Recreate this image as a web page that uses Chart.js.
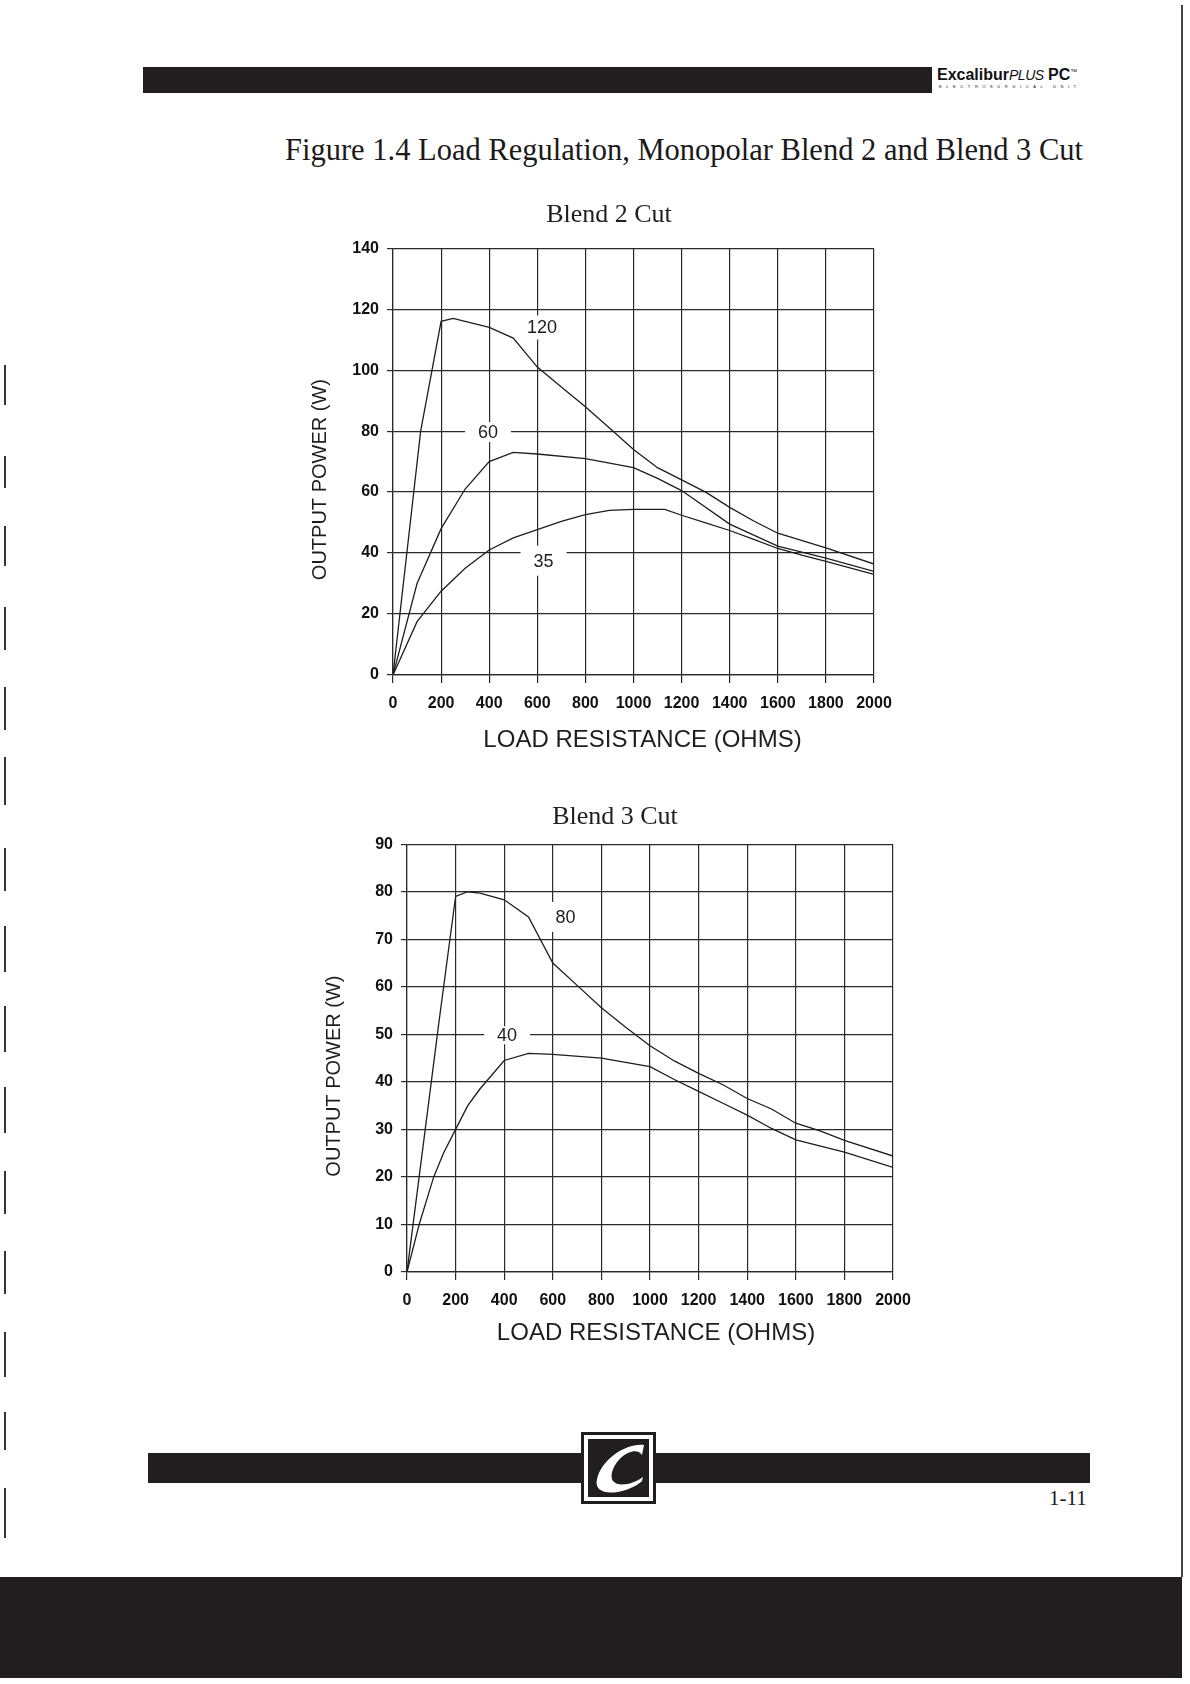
<!DOCTYPE html>
<html>
<head>
<meta charset="utf-8">
<title>Figure 1.4 Load Regulation</title>
<script src="https://cdn.jsdelivr.net/npm/chart.js@4.4.1/dist/chart.umd.min.js"></script>
<style>
  body { margin: 0; background: #fff; }
  #page { position: relative; width: 1190px; height: 1684px; overflow: hidden; background: #fff; }
  .blk { position: absolute; background: #221e1f; }
  #brand { position: absolute; left: 937px; top: 66px; font-family: "Liberation Sans", Arial, sans-serif; color: #111; white-space: nowrap; }
  #brand .b { font-weight: bold; font-size: 16px; }
  #brand .p { font-style: italic; font-size: 14px; letter-spacing: -0.5px; }
  #brand sup { font-size: 7px; }
  #brand .sub { position: absolute; left: 2px; top: 18px; font-size: 4px; letter-spacing: 4.6px; }
  #figtitle { position: absolute; left: 285px; top: 133px; font-family: "Liberation Serif", "Times New Roman", serif; font-size: 30.5px; line-height: 34px; color: #1a1a1a; white-space: nowrap; }
  canvas { position: absolute; }
  #pageno { position: absolute; left: 1049px; top: 1486px; font-family: "Liberation Serif", serif; font-size: 21px; color: #1a1a1a; }
  #logo { position: absolute; left: 581px; top: 1432px; width: 69px; height: 66px; border: 3px solid #221e1f; background: #fff; padding: 0; }
  #logo svg { position: absolute; left: 4px; top: 4px; }
  .mark { position: absolute; left: 4px; width: 2px; background: #333; }
</style>
</head>
<body>
<div id="page">
  <div class="blk" style="left:143px;top:67px;width:789px;height:26px;"></div>
  <div id="brand"><span class="b">Excalibur</span><span class="p">PLUS</span> <span class="b">PC</span><sup>™</sup><div class="sub">ELECTROSURGICAL UNIT</div></div>
  <div id="figtitle">Figure 1.4 Load Regulation, Monopolar Blend 2 and Blend 3 Cut</div>

  <canvas id="blend2" width="610" height="564" style="left:300px;top:190px;"></canvas>
  <canvas id="blend3" width="620" height="561" style="left:310px;top:786px;"></canvas>

  <div class="blk" style="left:148px;top:1453px;width:942px;height:30px;"></div>
  <div id="logo">
    <svg width="61" height="58" viewBox="0 0 61 58">
      <rect x="0" y="0" width="61" height="58" fill="#221e1f"/>
      <path d="M56 6 C38 4 14 20 9 40 C6 52 18 56 34 52 C42 50 50 46 54 42 L55 38 C44 46 30 48 25 42 C20 34 30 18 40 14 C46 11 52 12 54 16 Z" fill="#fff"/>
    </svg>
  </div>
  <div id="pageno">1-11</div>
  <div class="blk" style="left:0px;top:1577px;width:1182px;height:101px;"></div>
  <div style="position:absolute;left:1181px;top:5px;width:2px;height:1572px;background:#444;"></div>
</div>

<script>
// Blend 2 Cut - load resistance (ohms) vs output power (W), one pair per setting
var b2Load120 = [0, 115, 200, 250, 400, 500, 600, 700, 800, 900, 1000, 1100, 1200, 1300, 1400, 1500, 1600, 1800, 2000];
var b2Power120 = [0, 80, 116, 117, 114, 110.5, 101, 94.5, 88, 81, 74, 68, 64, 60, 55, 50.5, 46.5, 41.7, 36.4];
var b2Load60 = [0, 100, 200, 300, 400, 500, 600, 800, 1000, 1100, 1200, 1400, 1600, 1800, 2000];
var b2Power60 = [0, 30, 48, 61, 70, 73, 72.5, 71, 68, 64.5, 60.5, 49.5, 42.3, 38.3, 34];
var b2Load35 = [0, 100, 200, 300, 400, 500, 600, 700, 800, 900, 1000, 1130, 1200, 1300, 1400, 1500, 1600, 1700, 1800, 2000];
var b2Power35 = [0, 17.5, 27.5, 35, 41, 45, 47.7, 50.4, 52.6, 54, 54.3, 54.3, 52.4, 49.9, 47.4, 44.5, 41.5, 39.3, 37.3, 33];

// Blend 3 Cut
var b3Load80 = [0, 130, 200, 250, 300, 400, 500, 600, 700, 800, 900, 1000, 1100, 1200, 1300, 1400, 1500, 1600, 1700, 1800, 2000];
var b3Power80 = [0, 52, 79, 80, 79.7, 78.3, 74.7, 65, 60.3, 55.6, 51.5, 47.6, 44.4, 41.8, 39.4, 36.5, 34.3, 31.3, 29.7, 27.7, 24.4];
var b3Load40 = [0, 50, 110, 150, 200, 250, 300, 400, 500, 600, 800, 1000, 1100, 1200, 1300, 1400, 1500, 1600, 1800, 2000];
var b3Power40 = [0, 10, 20, 25, 30, 35, 38.5, 44.5, 46, 45.8, 45, 43.2, 40.5, 38, 35.5, 33, 30.2, 27.8, 25.2, 22];

// tick labels
var loadTicks = [0, 200, 400, 600, 800, 1000, 1200, 1400, 1600, 1800, 2000];
var b2PowerTicks = [0, 20, 40, 60, 80, 100, 120, 140];
var b3PowerTicks = [0, 10, 20, 30, 40, 50, 60, 70, 80, 90];

// curve names written on the plot
var b2CurveNames = ['120', '60', '35'];
var b3CurveNames = ['80', '40'];

var ink = '#1e1e1e';
var sans = '"Liberation Sans", Arial, sans-serif';

function pairs(xs, ys) {
  var out = [];
  for (var i = 0; i < xs.length; i++) out.push({ x: xs[i], y: ys[i] });
  return out;
}

function line(xs, ys) {
  return {
    data: pairs(xs, ys),
    borderColor: ink,
    borderWidth: 1.3,
    pointRadius: 0,
    tension: 0,
    fill: false
  };
}

// names on white boxes, drawn after the grid and before the curves
var curveLabelPlugin = {
  id: 'curveLabels',
  beforeDatasetsDraw: function (chart, args, opts) {
    var ctx = chart.ctx, xs = chart.scales.x, ys = chart.scales.y;
    ctx.save();
    ctx.font = '18px ' + sans;
    ctx.textAlign = 'center';
    ctx.textBaseline = 'middle';
    opts.spots.forEach(function (s, i) {
      var name = opts.names[i];
      var px = xs.getPixelForValue(s.at[0]), py = ys.getPixelForValue(s.at[1]);
      var w = ctx.measureText(name).width;
      ctx.fillStyle = '#fff';
      ctx.fillRect(px - w / 2 - s.pad[0], py - 7 - s.pad[1], w + 2 * s.pad[0], 14 + 2 * s.pad[1]);
      ctx.fillStyle = ink;
      ctx.fillText(name, px, py + 1);
    });
    ctx.restore();
  }
};

// axis titles, placed from the plot area (the print has them a bit off centre)
var axisTitlePlugin = {
  id: 'axisTitles',
  afterDraw: function (chart, args, opts) {
    var a = chart.chartArea, ctx = chart.ctx;
    ctx.save();
    ctx.fillStyle = ink;
    ctx.textAlign = 'center';
    ctx.textBaseline = 'middle';
    ctx.font = '24px ' + sans;
    ctx.fillText(opts.xText, (a.left + a.right) / 2 + opts.xShift, a.bottom + opts.xDrop);
    ctx.translate(a.left - 73, (a.top + a.bottom) / 2 + 18);
    ctx.rotate(-Math.PI / 2);
    ctx.font = '20px ' + sans;
    ctx.fillText(opts.yText, 0, 0);
    ctx.restore();
  }
};

function drawChart(id, title, titlePad, datasets, yTicks, padLeft, yAxisW, xAxisH, rightPad, titles, labels) {
  var grid = { color: '#2a2a2a', lineWidth: 1.2 };
  var tickFont = { family: sans, size: 16, weight: 'bold' };
  return new Chart(document.getElementById(id), {
    type: 'line',
    data: { datasets: datasets },
    plugins: [curveLabelPlugin, axisTitlePlugin],
    options: {
      responsive: false,
      animation: false,
      layout: { padding: { left: padLeft, right: rightPad, top: 0, bottom: 0 } },
      plugins: {
        legend: { display: false },
        tooltip: { enabled: false },
        title: {
          display: true,
          text: title,
          color: ink,
          font: { family: '"Liberation Serif", serif', size: 26, weight: 'normal' },
          padding: titlePad
        },
        curveLabels: labels,
        axisTitles: titles
      },
      scales: {
        x: {
          type: 'linear',
          min: loadTicks[0],
          max: loadTicks[loadTicks.length - 1],
          afterBuildTicks: function (s) { s.ticks = loadTicks.map(function (v) { return { value: v }; }); },
          afterFit: function (s) { s.height = xAxisH; },
          grid: { color: grid.color, lineWidth: grid.lineWidth, tickLength: 8 },
          border: { color: grid.color, width: grid.lineWidth },
          ticks: { color: '#111', padding: 11, maxRotation: 0, autoSkip: false, font: tickFont,
                   callback: function (v) { return String(v); } }
        },
        y: {
          type: 'linear',
          min: yTicks[0],
          max: yTicks[yTicks.length - 1],
          afterBuildTicks: function (s) { s.ticks = yTicks.map(function (v) { return { value: v }; }); },
          afterFit: function (s) { s.width = yAxisW; },
          grid: { color: grid.color, lineWidth: grid.lineWidth, tickLength: 6 },
          border: { color: grid.color, width: grid.lineWidth },
          ticks: { color: '#111', padding: 8, font: tickFont,
                   callback: function (v) { return String(v); } }
        }
      }
    }
  });
}

drawChart('blend2', 'Blend 2 Cut', { top: 10, bottom: 17 },
  [line(b2Load120, b2Power120), line(b2Load60, b2Power60), line(b2Load35, b2Power35)],
  b2PowerTicks, 44, 49, 79, 36,
  { xText: 'LOAD RESISTANCE (OHMS)', xShift: 9, xDrop: 65, yText: 'OUTPUT POWER (W)' },
  { names: b2CurveNames,
    spots: [ { at: [620, 114], pad: [3, 5] },
             { at: [395, 79.7], pad: [13, 3] },
             { at: [626, 37.5], pad: [13, 8] } ] });

drawChart('blend3', 'Blend 3 Cut', { top: 16, bottom: 11 },
  [line(b3Load80, b3Power80), line(b3Load40, b3Power40)],
  b3PowerTicks, 27, 70, 75, 37,
  { xText: 'LOAD RESISTANCE (OHMS)', xShift: 6, xDrop: 61, yText: 'OUTPUT POWER (W)' },
  { names: b3CurveNames,
    spots: [ { at: [652, 74.7], pad: [6, 8] },
             { at: [412, 49.8], pad: [13, 2] } ] });

// scan marks down the left edge
var marks = [[365, 40], [456, 32], [526, 40], [607, 43], [687, 43], [757, 48], [848, 43], [926, 46],
             [1006, 46], [1087, 46], [1171, 43], [1251, 43], [1332, 45], [1412, 38], [1488, 50]];
marks.forEach(function (m) {
  var d = document.createElement('div');
  d.className = 'mark';
  d.style.top = m[0] + 'px';
  d.style.height = m[1] + 'px';
  document.getElementById('page').appendChild(d);
});
</script>
</body>
</html>
